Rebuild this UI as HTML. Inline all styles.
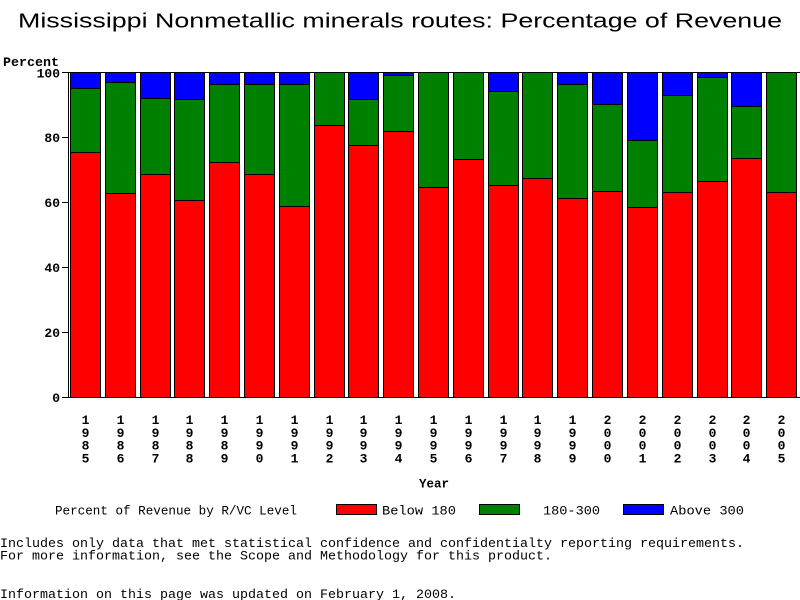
<!DOCTYPE html>
<html>
<head>
<meta charset="utf-8">
<style>
html,body{margin:0;padding:0;background:#fff;width:800px;height:600px;overflow:hidden;}
svg{display:block;}
.t{font-family:"Liberation Sans",sans-serif;font-size:20px;fill:#000;}
.b{font-family:"Liberation Mono",monospace;font-size:13px;font-weight:bold;fill:#000;}
.n{font-family:"Liberation Mono",monospace;font-size:13.33px;fill:#000;}
</style>
</head>
<body>
<svg width="800" height="600" viewBox="0 0 800 600" xmlns="http://www.w3.org/2000/svg">
<text class="t" x="18" y="27.5" textLength="764" lengthAdjust="spacingAndGlyphs">Mississippi Nonmetallic minerals routes: Percentage of Revenue</text>
<text class="b" x="3" y="66" textLength="56" lengthAdjust="spacingAndGlyphs">Percent</text>

<!-- bars -->
<g shape-rendering="crispEdges">
<rect x="70" y="72" width="31" height="16" fill="#00f"/><rect x="70" y="88" width="31" height="64" fill="#008000"/><rect x="70" y="152" width="31" height="245" fill="#f00"/>
<rect x="105" y="72" width="31" height="10" fill="#00f"/><rect x="105" y="82" width="31" height="111" fill="#008000"/><rect x="105" y="193" width="31" height="204" fill="#f00"/>
<rect x="140" y="72" width="31" height="26" fill="#00f"/><rect x="140" y="98" width="31" height="76" fill="#008000"/><rect x="140" y="174" width="31" height="223" fill="#f00"/>
<rect x="174" y="72" width="31" height="27" fill="#00f"/><rect x="174" y="99" width="31" height="101" fill="#008000"/><rect x="174" y="200" width="31" height="197" fill="#f00"/>
<rect x="209" y="72" width="31" height="12" fill="#00f"/><rect x="209" y="84" width="31" height="78" fill="#008000"/><rect x="209" y="162" width="31" height="235" fill="#f00"/>
<rect x="244" y="72" width="31" height="12" fill="#00f"/><rect x="244" y="84" width="31" height="90" fill="#008000"/><rect x="244" y="174" width="31" height="223" fill="#f00"/>
<rect x="279" y="72" width="31" height="12" fill="#00f"/><rect x="279" y="84" width="31" height="122" fill="#008000"/><rect x="279" y="206" width="31" height="191" fill="#f00"/>
<rect x="314" y="72" width="31" height="53" fill="#008000"/><rect x="314" y="125" width="31" height="272" fill="#f00"/>
<rect x="348" y="72" width="31" height="27" fill="#00f"/><rect x="348" y="99" width="31" height="46" fill="#008000"/><rect x="348" y="145" width="31" height="252" fill="#f00"/>
<rect x="383" y="72" width="31" height="3" fill="#00f"/><rect x="383" y="75" width="31" height="56" fill="#008000"/><rect x="383" y="131" width="31" height="266" fill="#f00"/>
<rect x="418" y="72" width="31" height="115" fill="#008000"/><rect x="418" y="187" width="31" height="210" fill="#f00"/>
<rect x="453" y="72" width="31" height="87" fill="#008000"/><rect x="453" y="159" width="31" height="238" fill="#f00"/>
<rect x="488" y="72" width="31" height="19" fill="#00f"/><rect x="488" y="91" width="31" height="94" fill="#008000"/><rect x="488" y="185" width="31" height="212" fill="#f00"/>
<rect x="522" y="72" width="31" height="106" fill="#008000"/><rect x="522" y="178" width="31" height="219" fill="#f00"/>
<rect x="557" y="72" width="31" height="12" fill="#00f"/><rect x="557" y="84" width="31" height="114" fill="#008000"/><rect x="557" y="198" width="31" height="199" fill="#f00"/>
<rect x="592" y="72" width="31" height="32" fill="#00f"/><rect x="592" y="104" width="31" height="87" fill="#008000"/><rect x="592" y="191" width="31" height="206" fill="#f00"/>
<rect x="627" y="72" width="31" height="68" fill="#00f"/><rect x="627" y="140" width="31" height="67" fill="#008000"/><rect x="627" y="207" width="31" height="190" fill="#f00"/>
<rect x="662" y="72" width="31" height="23" fill="#00f"/><rect x="662" y="95" width="31" height="97" fill="#008000"/><rect x="662" y="192" width="31" height="205" fill="#f00"/>
<rect x="697" y="72" width="31" height="5" fill="#00f"/><rect x="697" y="77" width="31" height="104" fill="#008000"/><rect x="697" y="181" width="31" height="216" fill="#f00"/>
<rect x="731" y="72" width="31" height="34" fill="#00f"/><rect x="731" y="106" width="31" height="52" fill="#008000"/><rect x="731" y="158" width="31" height="239" fill="#f00"/>
<rect x="766" y="72" width="31" height="120" fill="#008000"/><rect x="766" y="192" width="31" height="205" fill="#f00"/>
</g>

<!-- bar borders -->
<g fill="none" stroke="#000" stroke-width="1" shape-rendering="crispEdges">
<path d="M70 88.5h31M70 152.5h31M105 82.5h31M105 193.5h31M140 98.5h31M140 174.5h31M174 99.5h31M174 200.5h31M209 84.5h31M209 162.5h31M244 84.5h31M244 174.5h31M279 84.5h31M279 206.5h31M314 125.5h31M348 99.5h31M348 145.5h31M383 75.5h31M383 131.5h31M418 187.5h31M453 159.5h31M488 91.5h31M488 185.5h31M522 178.5h31M557 84.5h31M557 198.5h31M592 104.5h31M592 191.5h31M627 140.5h31M627 207.5h31M662 95.5h31M662 192.5h31M697 77.5h31M697 181.5h31M731 106.5h31M731 158.5h31M766 192.5h31"/>
<rect x="70.5" y="72.5" width="30" height="325"/>
<rect x="105.5" y="72.5" width="30" height="325"/>
<rect x="140.5" y="72.5" width="30" height="325"/>
<rect x="174.5" y="72.5" width="30" height="325"/>
<rect x="209.5" y="72.5" width="30" height="325"/>
<rect x="244.5" y="72.5" width="30" height="325"/>
<rect x="279.5" y="72.5" width="30" height="325"/>
<rect x="314.5" y="72.5" width="30" height="325"/>
<rect x="348.5" y="72.5" width="30" height="325"/>
<rect x="383.5" y="72.5" width="30" height="325"/>
<rect x="418.5" y="72.5" width="30" height="325"/>
<rect x="453.5" y="72.5" width="30" height="325"/>
<rect x="488.5" y="72.5" width="30" height="325"/>
<rect x="522.5" y="72.5" width="30" height="325"/>
<rect x="557.5" y="72.5" width="30" height="325"/>
<rect x="592.5" y="72.5" width="30" height="325"/>
<rect x="627.5" y="72.5" width="30" height="325"/>
<rect x="662.5" y="72.5" width="30" height="325"/>
<rect x="697.5" y="72.5" width="30" height="325"/>
<rect x="731.5" y="72.5" width="30" height="325"/>
<rect x="766.5" y="72.5" width="30" height="325"/>
<!-- axes -->
<path d="M68.5 72V398M62 72.5H800M62 397.5H800M62 137.5H68M62 202.5H68M62 267.5H68M62 332.5H68"/>
</g>

<!-- y tick labels -->
<g class="b" text-anchor="end">
<text x="60" y="77.5">100</text>
<text x="60" y="142">80</text>
<text x="60" y="207">60</text>
<text x="60" y="272">40</text>
<text x="60" y="337">20</text>
<text x="60" y="402">0</text>
</g>

<!-- x labels -->
<g class="b" text-anchor="middle">
<text x="85.5" y="424">1<tspan x="85.5" dy="12.8">9</tspan><tspan x="85.5" dy="12.8">8</tspan><tspan x="85.5" dy="12.8">5</tspan></text>
<text x="120.5" y="424">1<tspan x="120.5" dy="12.8">9</tspan><tspan x="120.5" dy="12.8">8</tspan><tspan x="120.5" dy="12.8">6</tspan></text>
<text x="155.5" y="424">1<tspan x="155.5" dy="12.8">9</tspan><tspan x="155.5" dy="12.8">8</tspan><tspan x="155.5" dy="12.8">7</tspan></text>
<text x="189.5" y="424">1<tspan x="189.5" dy="12.8">9</tspan><tspan x="189.5" dy="12.8">8</tspan><tspan x="189.5" dy="12.8">8</tspan></text>
<text x="224.5" y="424">1<tspan x="224.5" dy="12.8">9</tspan><tspan x="224.5" dy="12.8">8</tspan><tspan x="224.5" dy="12.8">9</tspan></text>
<text x="259.5" y="424">1<tspan x="259.5" dy="12.8">9</tspan><tspan x="259.5" dy="12.8">9</tspan><tspan x="259.5" dy="12.8">0</tspan></text>
<text x="294.5" y="424">1<tspan x="294.5" dy="12.8">9</tspan><tspan x="294.5" dy="12.8">9</tspan><tspan x="294.5" dy="12.8">1</tspan></text>
<text x="329.5" y="424">1<tspan x="329.5" dy="12.8">9</tspan><tspan x="329.5" dy="12.8">9</tspan><tspan x="329.5" dy="12.8">2</tspan></text>
<text x="363.5" y="424">1<tspan x="363.5" dy="12.8">9</tspan><tspan x="363.5" dy="12.8">9</tspan><tspan x="363.5" dy="12.8">3</tspan></text>
<text x="398.5" y="424">1<tspan x="398.5" dy="12.8">9</tspan><tspan x="398.5" dy="12.8">9</tspan><tspan x="398.5" dy="12.8">4</tspan></text>
<text x="433.5" y="424">1<tspan x="433.5" dy="12.8">9</tspan><tspan x="433.5" dy="12.8">9</tspan><tspan x="433.5" dy="12.8">5</tspan></text>
<text x="468.5" y="424">1<tspan x="468.5" dy="12.8">9</tspan><tspan x="468.5" dy="12.8">9</tspan><tspan x="468.5" dy="12.8">6</tspan></text>
<text x="503.5" y="424">1<tspan x="503.5" dy="12.8">9</tspan><tspan x="503.5" dy="12.8">9</tspan><tspan x="503.5" dy="12.8">7</tspan></text>
<text x="537.5" y="424">1<tspan x="537.5" dy="12.8">9</tspan><tspan x="537.5" dy="12.8">9</tspan><tspan x="537.5" dy="12.8">8</tspan></text>
<text x="572.5" y="424">1<tspan x="572.5" dy="12.8">9</tspan><tspan x="572.5" dy="12.8">9</tspan><tspan x="572.5" dy="12.8">9</tspan></text>
<text x="607.5" y="424">2<tspan x="607.5" dy="12.8">0</tspan><tspan x="607.5" dy="12.8">0</tspan><tspan x="607.5" dy="12.8">0</tspan></text>
<text x="642.5" y="424">2<tspan x="642.5" dy="12.8">0</tspan><tspan x="642.5" dy="12.8">0</tspan><tspan x="642.5" dy="12.8">1</tspan></text>
<text x="677.5" y="424">2<tspan x="677.5" dy="12.8">0</tspan><tspan x="677.5" dy="12.8">0</tspan><tspan x="677.5" dy="12.8">2</tspan></text>
<text x="712.5" y="424">2<tspan x="712.5" dy="12.8">0</tspan><tspan x="712.5" dy="12.8">0</tspan><tspan x="712.5" dy="12.8">3</tspan></text>
<text x="746.5" y="424">2<tspan x="746.5" dy="12.8">0</tspan><tspan x="746.5" dy="12.8">0</tspan><tspan x="746.5" dy="12.8">4</tspan></text>
<text x="781.5" y="424">2<tspan x="781.5" dy="12.8">0</tspan><tspan x="781.5" dy="12.8">0</tspan><tspan x="781.5" dy="12.8">5</tspan></text>
</g>
<text class="b" x="419" y="487.5" textLength="30" lengthAdjust="spacingAndGlyphs">Year</text>

<!-- legend -->
<text class="n" x="55" y="514.7" textLength="242" lengthAdjust="spacingAndGlyphs">Percent of Revenue by R/VC Level</text>
<g shape-rendering="crispEdges" stroke="#000" stroke-width="1">
<rect x="336.5" y="504.5" width="40" height="10" fill="#f00"/>
<rect x="479.5" y="504.5" width="40" height="10" fill="#008000"/>
<rect x="623.5" y="504.5" width="40" height="10" fill="#00f"/>
</g>
<text class="n" x="382" y="514.7" textLength="74" lengthAdjust="spacingAndGlyphs">Below 180</text>
<text class="n" x="543" y="514.7" textLength="57" lengthAdjust="spacingAndGlyphs">180-300</text>
<text class="n" x="670" y="514.7" textLength="74" lengthAdjust="spacingAndGlyphs">Above 300</text>

<!-- footer -->
<text class="n" x="0" y="547" textLength="744" lengthAdjust="spacingAndGlyphs">Includes only data that met statistical confidence and confidentialty reporting requirements.</text>
<text class="n" x="0" y="559.5" textLength="552" lengthAdjust="spacingAndGlyphs">For more information, see the Scope and Methodology for this product.</text>
<text class="n" x="0" y="598" textLength="456" lengthAdjust="spacingAndGlyphs">Information on this page was updated on February 1, 2008.</text>
</svg>
</body>
</html>
